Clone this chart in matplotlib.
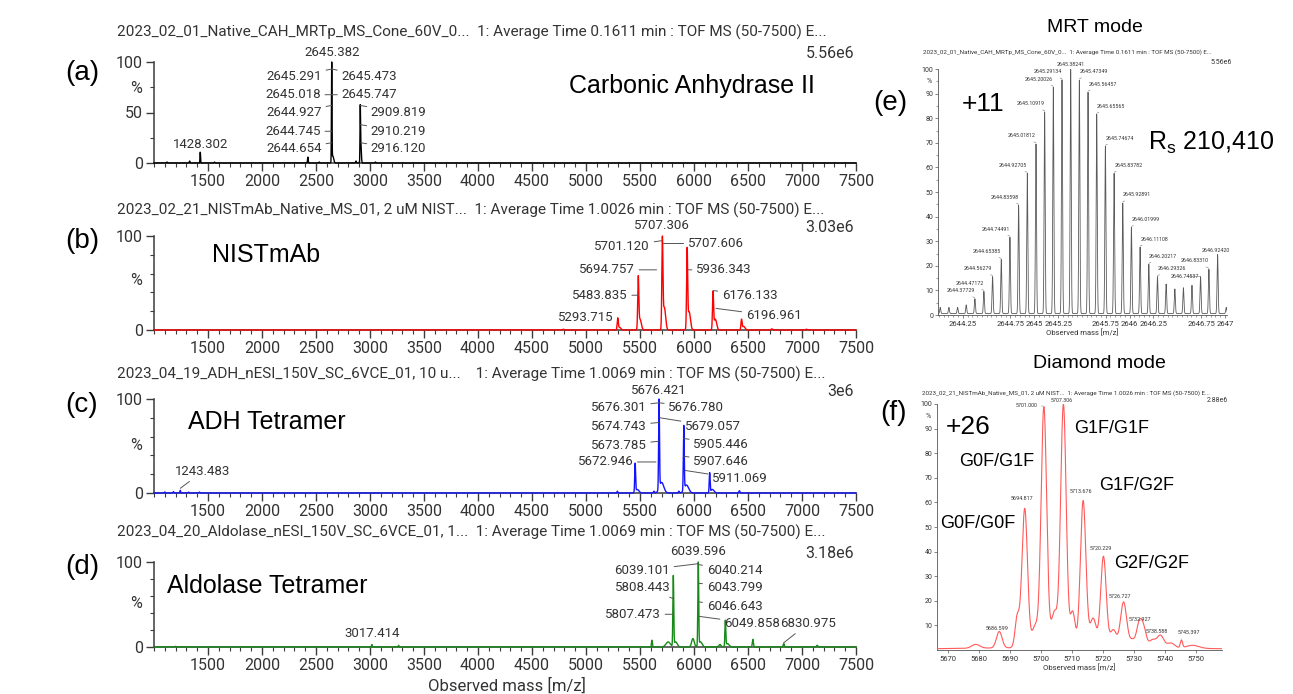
import numpy as np
import matplotlib
matplotlib.use("Agg")
import matplotlib.pyplot as plt
from matplotlib.ticker import FixedLocator

plt.rcParams['font.family'] = ['Roboto', 'DejaVu Sans']

# ======================= DATA =======================
# Left panels: peak components (centre m/z, relative height %, sigma m/z)
a_centres = [1120, 1330, 1428.302, 1560, 2424.6, 2530, 2645.382, 2656, 2870, 2909.819, 2916.120, 3050]
a_heights = [1.0, 2.0, 11, 1.0, 6, 1.0, 100, 7, 2.0, 54, 18, 1.0]
a_sigmas = [3, 3, 2.5, 3, 3, 3, 2.5, 8, 3, 2.5, 4, 3]
a_labels = ["2645.382", "2645.291", "2645.473", "2645.018", "2645.747", "2644.927",
            "2909.819", "2644.745", "2910.219", "2644.654", "2916.120", "1428.302"]

b_centres = [4790, 5293.715, 5310, 5483.835, 5500, 5707.306, 5725, 5936.343, 5955, 6176.133, 6197, 6440, 6460, 6720, 7040]
b_heights = [0.8, 12, 3, 55, 12, 95, 25, 85, 20, 40, 12, 11, 4, 1.2, 0.8]
b_sigmas = [8, 5, 12, 5, 12, 5, 12, 5, 12, 5, 12, 5, 12, 8, 8]
b_labels = ["5707.306", "5701.120", "5707.606", "5694.757", "5936.343", "5483.835",
            "6176.133", "6196.961", "5293.715"]

c_centres = [1100, 1180, 1243.483, 1320, 1420, 5290, 5455, 5475, 5630, 5676.421, 5700, 5860, 5905.446, 5930, 6145, 6170, 6420]
c_heights = [1.2, 1.5, 3, 1.0, 1.0, 2.0, 32, 4, 2, 100, 12, 2, 72, 9, 22, 4, 2.5]
c_sigmas = [4, 4, 3, 4, 4, 4, 4, 15, 5, 4, 20, 5, 4, 20, 4, 15, 5]
c_labels = ["5676.421", "5676.301", "5676.780", "5674.743", "5679.057", "5673.785",
            "5905.446", "5672.946", "5907.646", "5911.069", "1243.483"]

d_centres = [1200, 3017.414, 3265, 5610, 5760, 5808.443, 5830, 5990, 6039.596, 6060, 6240, 6290, 6310, 6545, 6830.975, 7140]
d_heights = [0.8, 3, 2, 8, 6, 82, 6, 10, 98, 6, 3, 30, 4, 9, 4, 2]
d_sigmas = [5, 3, 3, 4, 20, 4, 15, 12, 4, 15, 10, 4, 15, 5, 5, 6]
d_labels = ["6039.596", "6039.101", "6040.214", "6043.799", "5808.443", "6046.643",
            "5807.473", "6049.858", "6830.975", "3017.414"]

x_ticks = list(range(1500, 7501, 500))

# (e) MRT mode, +11 isotope cluster
e_mz = [2644.0134, 2644.1044, 2644.1955, 2644.2864, 2644.37729, 2644.47172, 2644.56279,
        2644.65385, 2644.74491, 2644.83598, 2644.92705, 2645.01812, 2645.10919, 2645.20026,
        2645.29134, 2645.38241, 2645.47349, 2645.56457, 2645.65565, 2645.74674, 2645.83782,
        2645.92891, 2646.01999, 2646.11108, 2646.20217, 2646.29326, 2646.3843, 2646.4754,
        2646.5654, 2646.6554, 2646.74537, 2646.83310, 2646.92420, 2647.015]
e_int = [2.5, 2.5, 2.5, 3.5, 6, 9, 15, 22, 31, 44, 57, 69, 82, 92, 95, 100, 95, 90, 81, 68,
         57, 45, 35, 27, 20, 15, 12, 10, 10.5, 11.5, 15, 18, 24, 2.5]
e_labels = ["", "", "", "", "2644.37729", "2644.47172", "2644.56279", "2644.65385", "2644.74491",
            "2644.83598", "2644.92705", "2645.01812", "2645.10919", "2645.20026", "2645.29134",
            "2645.38241", "2645.47349", "2645.56457", "2645.65565", "2645.74674", "2645.83782",
            "2645.92891", "2646.01999", "2646.11108", "2646.20217", "2646.29326", "", "", "", "",
            "2646.74537", "2646.83310", "2646.92420", ""]
e_xticks = [2644.25, 2644.75, 2645, 2645.25, 2645.75, 2646, 2646.25, 2646.75, 2647]
e_xticklabels = ["2644.25", "2644.75", "2645", "2645.25", "2645.75", "2646", "2646.25", "2646.75", "2647"]

# (f) Diamond mode, NISTmAb +26
f_centres = [5679.0, 5686.6, 5692.4, 5694.817, 5698.2, 5701.0, 5704.4, 5707.306, 5710.3, 5713.676,
             5716.9, 5720.229, 5723.4, 5726.727, 5729.6, 5731.7, 5733.1, 5736.0, 5738.6, 5742.0,
             5745.397, 5749.0, 5712.0]
f_heights = [1.5, 6.5, 12, 55, 8.5, 95, 14, 96, 14, 58, 11.5, 36, 7, 18, 3, 8, 8, 3, 5, 2, 3, 1.2, 1.0]
f_sigmas = [1.3, 0.9, 0.7, 0.9, 1.0, 0.9, 1.0, 0.9, 0.8, 0.9, 1.0, 0.9, 1.0, 1.0, 1.0, 0.8,
            0.9, 1.0, 1.1, 1.2, 0.35, 2.0, 40]
f_labels = ["5686.599", "5694.817", "5701.000", "5707.306", "5713.676", "5720.229",
            "5726.727", "5732.927", "5738.588", "5745.397"]
f_xticks = list(range(5670, 5751, 10))
f_yticks = list(range(10, 101, 10))

# ======================= LAYOUT =======================
W, H = 1293, 694
fig = plt.figure(figsize=(W / 100, H / 100), dpi=100)

def fx(px):
    return px / W

def fy(py):
    return 1 - py / H

GREY = '#333333'
AXC = '#3c3c3c'

# label layouts: (text x, text y, ha, lead x, lead y)
a_layout = [(2645.382, 109, 'center', None, None), (2555, 86, 'right', 2645.3, 93),
            (2735, 86, 'left', 2645.5, 93), (2545, 67.6, 'right', 2645.0, 67.6),
            (2735, 67.6, 'left', 2645.7, 67.6), (2555, 50, 'right', 2644.9, 57),
            (3008, 50, 'left', 2909.8, 57), (2545, 31.4, 'right', 2644.7, 31.4),
            (3008, 31.4, 'left', 2910.2, 38), (2555, 14, 'right', 2644.7, 20),
            (3008, 14, 'left', 2916.1, 20), (1428.302, 18, 'center', None, None)]
b_layout = [(5707.306, 111, 'center', None, None), (5593, 89, 'right', 5701.1, 95),
            (5942, 92, 'left', 5716, 92), (5454, 64, 'right', 5654, 64),
            (6019, 64, 'left', 5939, 64), (5386, 37, 'right', 5483.8, 37),
            (6257, 37, 'left', 6176.1, 42), (6479, 15, 'left', 6203, 23),
            (5253, 13, 'right', 5293.7, 13)]
c_layout = [(5676.421, 109, 'center', None, None), (5562, 91, 'right', 5676.3, 96),
            (5762, 91, 'left', 5676.8, 96), (5562, 71, 'right', 5674.7, 75),
            (5917, 71, 'left', 5685, 80), (5562, 51, 'right', 5673.8, 55),
            (5993, 52, 'left', 5905.4, 58), (5438, 33, 'right', 5648, 33),
            (5993, 34, 'left', 5907.6, 39), (6168, 15, 'left', 5917, 24),
            (1454, 23, 'center', 1243.5, 5)]
d_layout = [(6039.596, 112.6, 'center', None, None), (5778, 90, 'right', 6039.1, 98),
            (6117, 90, 'left', 6040.2, 97), (6117, 70, 'left', 6043.8, 75),
            (5784, 70, 'right', 5808.4, 57), (6117, 48, 'left', 6046.6, 53),
            (5694, 38.5, 'right', 5807.5, 38.5), (6278, 27.6, 'left', 6049.9, 36),
            (6798, 27.6, 'left', 6831.0, 5), (3017.414, 16, 'center', None, None)]


def profile(x, centres, heights, sigmas):
    y = np.zeros_like(x)
    for c, h, s in zip(centres, heights, sigmas):
        y += h * np.exp(-0.5 * ((x - c) / s) ** 2)
    return y


def put_label(ax, text, tx, ty, ha, lx, ly, fs, color=GREY, lcolor='#555555', lw=0.7):
    if lx is None:
        ax.text(tx, ty, text, ha=ha, va='center', fontsize=fs, color=color, clip_on=False)
    else:
        ax.annotate(text, xy=(lx, ly), xytext=(tx, ty), ha=ha, va='center', fontsize=fs,
                    color=color, annotation_clip=False,
                    arrowprops=dict(arrowstyle='-', color=lcolor, lw=lw, shrinkA=1, shrinkB=0))


def left_axes(top, bottom, major_y, minor_y, ylabels, pct_y):
    ax = fig.add_axes([fx(154), fy(bottom), fx(856) - fx(154), (bottom - top) / H])
    ax.set_xlim(1000, 7500)
    ax.set_ylim(0, 100)
    ax.patch.set_alpha(0)
    for s in ('top', 'right'):
        ax.spines[s].set_visible(False)
    for s in ('left', 'bottom'):
        ax.spines[s].set_color(AXC)
        ax.spines[s].set_linewidth(1.1)
    ax.set_xticks(x_ticks)
    ax.set_xticklabels([str(v) for v in x_ticks])
    ax.xaxis.set_minor_locator(FixedLocator(list(range(1000, 7501, 100))))
    ax.set_yticks(major_y)
    ax.set_yticklabels(ylabels)
    ax.yaxis.set_minor_locator(FixedLocator(minor_y))
    ax.tick_params(which='major', length=6, width=1.0, color=AXC, labelsize=11.5,
                   labelcolor=GREY, pad=2)
    ax.tick_params(which='minor', length=3, width=0.8, color=AXC)
    ax.text(-0.026, pct_y, '%', transform=ax.get_yaxis_transform(), ha='center', va='center',
            fontsize=11.5, color=GREY)
    return ax


xg = np.arange(1000, 7500.01, 0.5)
panels = [
    (62, 163, [0, 50, 100], [25, 75], ['0', '50', '100'], 74,
     a_centres, a_heights, a_sigmas, a_labels, a_layout, '#000000',
     "2023_02_01_Native_CAH_MRTp_MS_Cone_60V_0...  1: Average Time 0.1611 min : TOF MS (50-7500) E...",
     32, "5.56e6", 53, "(a)", 73, "Carbonic Anhydrase II", (692, 86)),
    (236, 330, [0, 100], [20, 40, 60, 80], ['0', '100'], 53,
     b_centres, b_heights, b_sigmas, b_labels, b_layout, '#ff0000',
     "2023_02_21_NISTmAb_Native_MS_01, 2 uM NIST...  1: Average Time 1.0026 min : TOF MS (50-7500) E...",
     210, "3.03e6", 228, "(b)", 241, "NISTmAb", (266, 255)),
    (399, 493, [0, 100], [20, 40, 60, 80], ['0', '100'], 50,
     c_centres, c_heights, c_sigmas, c_labels, c_layout, '#1414ff',
     "2023_04_19_ADH_nESI_150V_SC_6VCE_01, 10 u...    1: Average Time 1.0069 min : TOF MS (50-7500) E...",
     374, "3e6", 392, "(c)", 405, "ADH Tetramer", (267, 422)),
    (562, 647, [0, 100], [20, 40, 60, 80], ['0', '100'], 51,
     d_centres, d_heights, d_sigmas, d_labels, d_layout, '#168a16',
     "2023_04_20_Aldolase_nESI_150V_SC_6VCE_01, 1...  1: Average Time 1.0069 min : TOF MS (50-7500) E...",
     532, "3.18e6", 553, "(d)", 567, "Aldolase Tetramer", (267, 586)),
]

for (top, bot, my, mny, ylab, pcty, cen, hgt, sig, labs, lay, col, title, ty_title,
     scale, ty_scale, letter, ty_letter, name, name_xy) in panels:
    ax = left_axes(top, bot, my, mny, ylab, pcty)
    y = profile(xg, cen, hgt, sig)
    y = y / y.max() * 100
    ax.plot(xg, y, color=col, lw=1.0, clip_on=False, zorder=3)
    for text, (tx, tyy, ha, lx, ly) in zip(labs, lay):
        put_label(ax, text, tx, tyy, ha, lx, ly, 9.5)
    fig.text(fx(117), fy(ty_title), title, ha='left', va='center', fontsize=11, color=GREY)
    fig.text(fx(854), fy(ty_scale), scale, ha='right', va='center', fontsize=11.5, color=GREY)
    fig.text(fx(82), fy(ty_letter), letter, ha='center', va='center', fontsize=20,
             family='Liberation Sans', color='black')
    fig.text(fx(name_xy[0]), fy(name_xy[1]), name, ha='center', va='center', fontsize=18,
             family='Liberation Sans', color='black')

fig.text(fx(507), fy(686), "Observed mass [m/z]", ha='center', va='center', fontsize=12, color=GREY)

# ----------------- (e) MRT mode -----------------
fig.text(fx(1095), fy(28), "MRT mode", ha='center', va='center', fontsize=14,
         family='Liberation Sans', color='black')
fig.text(fx(890), fy(103), "(e)", ha='center', va='center', fontsize=20,
         family='Liberation Sans', color='black')
axe = fig.add_axes([fx(938), fy(315), fx(1227) - fx(938), (315 - 69) / H])
axe.set_xlim(2643.99, 2647.023)
axe.set_ylim(0, 100)
axe.patch.set_alpha(0)
for s in ('top', 'right'):
    axe.spines[s].set_visible(False)
for s in ('left', 'bottom'):
    axe.spines[s].set_color('#555555')
    axe.spines[s].set_linewidth(0.6)
xe = np.arange(2643.99, 2647.023, 0.0006)
ye = profile(xe, e_mz, e_int, [0.0055] * len(e_mz)) + 0.6
axe.plot(xe, ye, color='#5a5a5a', lw=0.6, zorder=3)
axe.set_xticks(e_xticks)
axe.set_xticklabels(e_xticklabels)
axe.xaxis.set_minor_locator(FixedLocator(list(np.arange(2644.0, 2647.01, 0.05))))
axe.set_yticks(list(range(0, 101, 10)))
axe.set_yticklabels([str(v) for v in range(0, 101, 10)])
axe.yaxis.set_minor_locator(FixedLocator(list(range(5, 100, 10))))
axe.tick_params(axis='x', which='major', length=2.5, width=0.5, color='#555555', labelsize=5.5,
                labelcolor=GREY, pad=1.5)
axe.tick_params(axis='y', which='major', length=2.5, width=0.5, color='#555555', labelsize=5,
                labelcolor=GREY, pad=1)
axe.tick_params(which='minor', length=1.2, width=0.4, color='#555555')
axe.text(-0.03, 95, '%', transform=axe.get_yaxis_transform(), ha='center', va='center',
         fontsize=5, color=GREY)
axe.set_xlabel("Observed mass [m/z]", fontsize=5.5, color=GREY, labelpad=1.5)
top_i = int(np.argmax(e_int))
for i, (mz, h, lab) in enumerate(zip(e_mz, e_int, e_labels)):
    if not lab:
        continue
    if i == top_i:
        put_label(axe, lab, mz, h + 1.8, 'center', None, None, 3.8, lcolor='#777', lw=0.4)
    elif lab == "2646.74537":
        put_label(axe, lab, mz - 0.012, h + 0.6, 'right', mz, h + 0.6, 3.8, lcolor='#777', lw=0.4)
    elif lab == "2646.83310":
        put_label(axe, lab, mz - 0.004, h + 4, 'right', mz, h + 1, 3.8, lcolor='#777', lw=0.4)
    elif lab == "2646.92420":
        put_label(axe, lab, mz - 0.02, h + 2.2, 'center', None, None, 3.8)
    elif i < top_i:
        put_label(axe, lab, mz - 0.002, h + 3.8, 'right', mz, h + 1, 3.8, lcolor='#777', lw=0.4)
    else:
        put_label(axe, lab, mz + 0.002, h + 3.8, 'left', mz, h + 1, 3.8, lcolor='#777', lw=0.4)
fig.text(fx(923), fy(52),
         "2023_02_01_Native_CAH_MRTp_MS_Cone_60V_0...  1: Average Time 0.1611 min : TOF MS (50-7500) E...",
         ha='left', va='center', fontsize=4.5, color=GREY)
fig.text(fx(1232), fy(62), "5.56e6", ha='right', va='center', fontsize=5, color=GREY)
fig.text(fx(983), fy(104), "+11", ha='center', va='center', fontsize=19,
         family='Liberation Sans', color='black')
fig.text(fx(1211), fy(143), r"$\mathregular{R_s}$ 210,410", ha='center', va='center', fontsize=18,
         family='Liberation Sans', color='black')

# ----------------- (f) Diamond mode -----------------
fig.text(fx(1099), fy(364), "Diamond mode", ha='center', va='center', fontsize=14,
         family='Liberation Sans', color='black')
fig.text(fx(893), fy(413), "(f)", ha='center', va='center', fontsize=20,
         family='Liberation Sans', color='black')
axf = fig.add_axes([fx(937), fy(650), fx(1222) - fx(937), (650 - 404) / H])
axf.set_xlim(5666.5, 5758.5)
axf.set_ylim(0, 100)
axf.patch.set_alpha(0)
for s in ('top', 'right'):
    axf.spines[s].set_visible(False)
for s in ('left', 'bottom'):
    axf.spines[s].set_color('#555555')
    axf.spines[s].set_linewidth(0.6)
xf = np.arange(5666.5, 5758.5, 0.05)
yf = profile(xf, f_centres, f_heights, f_sigmas)
yf = yf / yf.max() * 100
axf.plot(xf, yf, color='#ff5a5a', lw=0.8, zorder=3)
axf.set_xticks(f_xticks)
axf.set_xticklabels([str(v) for v in f_xticks])
axf.set_yticks(f_yticks)
axf.set_yticklabels([str(v) for v in f_yticks])
axf.tick_params(axis='x', length=2.5, width=0.5, color='#555555', labelsize=5.5,
                labelcolor=GREY, pad=1.5)
axf.tick_params(axis='y', length=2.5, width=0.5, color='#555555', labelsize=5,
                labelcolor=GREY, pad=1)
axf.text(-0.03, 95, '%', transform=axf.get_yaxis_transform(), ha='center', va='center',
         fontsize=5, color=GREY)
axf.set_xlabel("Observed mass [m/z]", fontsize=5.5, color=GREY, labelpad=1.5)
f_layout = [(5685.8, 8.7, 'center', None, None), (5693.8, 61.6, 'center', None, None),
            (5698.8, 99.2, 'right', 5700.6, 99.2), (5706.7, 101.6, 'center', None, None),
            (5712.9, 64.3, 'center', None, None), (5719.3, 41.2, 'center', None, None),
            (5725.5, 21.7, 'center', None, None), (5732.0, 12.3, 'center', None, None),
            (5737.6, 7.7, 'center', None, None), (5747.9, 7.0, 'center', 5745.4, 4.5)]
for text, (tx, tyy, ha, lx, ly) in zip(f_labels, f_layout):
    put_label(axf, text, tx, tyy, ha, lx, ly, 3.9, lcolor='#777', lw=0.4)
fig.text(fx(922), fy(393),
         "2023_02_21_NISTmAb_Native_MS_01, 2 uM NIST...  1: Average Time 1.0026 min : TOF MS (50-7500) E...",
         ha='left', va='center', fontsize=4.5, color=GREY)
fig.text(fx(1228), fy(401), "2.88e6", ha='right', va='center', fontsize=5, color=GREY)
fig.text(fx(968), fy(427), "+26", ha='center', va='center', fontsize=19,
         family='Liberation Sans', color='black')
for txt, (px, py) in [("G1F/G1F", (1112, 428)), ("G0F/G1F", (997, 462)), ("G1F/G2F", (1137, 485)),
                      ("G0F/G0F", (978, 523)), ("G2F/G2F", (1152, 563))]:
    fig.text(fx(px), fy(py), txt, ha='center', va='center', fontsize=13,
             family='Liberation Sans', color='black')

fig.savefig("out.png", dpi=100, facecolor='white')
